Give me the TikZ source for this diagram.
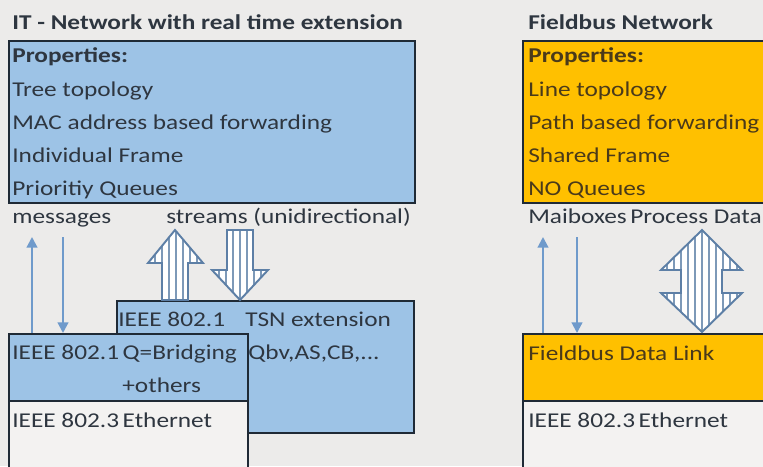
\documentclass[tikz,border=0pt]{standalone}
\usepackage{fontspec}
\setmainfont[FakeStretch=1.2]{Carlito}
\usetikzlibrary{arrows.meta}

\definecolor{pagegray}{HTML}{ECEBEA}
\definecolor{itblue}{HTML}{9DC3E6}
\definecolor{fborange}{HTML}{FFC000}
\definecolor{framedark}{HTML}{1F2A36}
\definecolor{msgblue}{HTML}{6F9ACB}
\definecolor{hollowblue}{HTML}{5D7FA6}
\definecolor{ethgray}{HTML}{F3F2F1}
\definecolor{textgray}{HTML}{2E3640}
\definecolor{textbrown}{HTML}{4A3A1A}

\tikzset{
    layer/.style = {draw=framedark, line width=1.1pt, inner sep=0pt, anchor=north west},
    txt/.style = {anchor=base west, inner sep=0pt, text=textgray, font=\fontsize{12}{14}\selectfont},
    head/.style = {txt, font=\bfseries\fontsize{12}{14}\selectfont},
    msg/.style = {draw=msgblue, line width=1.2pt, -{Triangle[length=6pt,width=6pt]}},
    hollow/.style = {draw=hollowblue, line width=1.1pt, line join=miter},
    stripe/.style = {draw=hollowblue!80, line width=0.8pt}
}

\begin{document}
\begin{tikzpicture}[x=0.02cm, y=-0.02cm]
    \fill[pagegray] (0,0) rectangle (763,466);
    \clip (0,0) rectangle (763,466);

    % IT network side
    \node[head] (ittitle) at (12,30) {IT - Network with real time extension};
    \node[layer, fill=itblue, minimum width=8.12cm, minimum height=3.24cm] (itprops) at (8,40) {};
    \node[head] (itp0) at (12,63) {Properties:};
    \node[txt] (itp1) at (12,96) {Tree topology};
    \node[txt] (itp2) at (12,129) {MAC address based forwarding};
    \node[txt] (itp3) at (12,162) {Individual Frame};
    \node[txt] (itp4) at (12,195) {Prioritiy Queues};

    \node[txt] (messages) at (12,223) {messages};
    \node[txt] (streams) at (166,223) {streams (unidirectional)};

    \node[layer, fill=itblue, minimum width=5.94cm, minimum height=2.64cm] (tsn) at (116,300) {};
    \node[txt] (tsn1) at (118,326) {IEEE 802.1};
    \node[txt] (tsn2) at (245,326) {TSN extension};
    \node[txt] (tsn3) at (248,359) {Qbv,AS,CB,...};

    \node[layer, fill=itblue, minimum width=4.78cm, minimum height=1.34cm] (bridge) at (8,333) {};
    \node[txt] (bridge1) at (12,359) {IEEE 802.1\,Q=Bridging};
    \node[txt] (bridge2) at (122,392) {+others};

    \node[layer, fill=ethgray, minimum width=4.78cm, minimum height=1.5cm] (iteth) at (8,400) {};
    \node[txt] (iteth1) at (12,427) {IEEE 802.3\,Ethernet};

    \coordinate (itup) at (32,237);
    \coordinate (itdown) at (63,237);
    \draw[msg] (itup |- bridge.north) -- (itup);
    \draw[msg] (itdown) -- (itdown |- bridge.north);

    % streams up
    \begin{scope}
        \clip (162,300) -- (162,263) -- (148,263) -- (175,230) -- (203,263) -- (188,263) -- (188,300) -- cycle;
        \fill[white] (140,225) rectangle (210,305);
        \foreach \s in {155,162,...,200} \draw[stripe] (\s,225) -- (\s,305);
    \end{scope}
    \draw[hollow] (162,300) -- (162,263) -- (148,263) -- (175,230) -- (203,263) -- (188,263) -- (188,300) -- cycle;

    % streams down
    \begin{scope}
        \clip (227,230) -- (227,270) -- (212,270) -- (240,300) -- (268,270) -- (253,270) -- (253,230) -- cycle;
        \fill[white] (205,225) rectangle (275,305);
        \foreach \s in {219,226,...,265} \draw[stripe] (\s,225) -- (\s,305);
    \end{scope}
    \draw[hollow] (227,230) -- (227,270) -- (212,270) -- (240,300) -- (268,270) -- (253,270) -- (253,230) -- cycle;

    % fieldbus side
    \node[head] (fbtitle) at (528,30) {Fieldbus Network};
    \node[layer, fill=fborange, minimum width=4.9cm, minimum height=3.24cm] (fbprops) at (522,40) {};
    \node[head, text=textbrown] (fbp0) at (528,63) {Properties:};
    \node[txt, text=textbrown] (fbp1) at (528,96) {Line topology};
    \node[txt, text=textbrown] (fbp2) at (528,129) {Path based forwarding};
    \node[txt, text=textbrown] (fbp3) at (528,162) {Shared Frame};
    \node[txt, text=textbrown] (fbp4) at (528,195) {NO Queues};

    \node[txt] (mailbox) at (528,223) {Maiboxes\,Process Data};

    \node[layer, fill=fborange, minimum width=4.9cm, minimum height=1.34cm] (fblink) at (522,333) {};
    \node[txt, text=textbrown] (fblink1) at (528,360) {Fieldbus Data Link};

    \node[layer, fill=ethgray, minimum width=4.9cm, minimum height=1.5cm] (fbeth) at (522,400) {};
    \node[txt] (fbeth1) at (528,427) {IEEE 802.3\,Ethernet};

    \coordinate (fbup) at (543,237);
    \coordinate (fbdown) at (577,237);
    \draw[msg] (fbup |- fblink.north) -- (fbup);
    \draw[msg] (fbdown) -- (fbdown |- fblink.north);

    % process data both ways
    \begin{scope}
        \clip (702,230) -- (742,270) -- (722,270) -- (722,293) -- (742,293) -- (702,332) -- (661,293) -- (681,293) -- (681,270) -- (661,270) -- cycle;
        \fill[white] (655,225) rectangle (750,337);
        \foreach \s in {667,674,...,740} \draw[stripe] (\s,225) -- (\s,337);
    \end{scope}
    \draw[hollow] (702,230) -- (742,270) -- (722,270) -- (722,293) -- (742,293) -- (702,332) -- (661,293) -- (681,293) -- (681,270) -- (661,270) -- cycle;
\end{tikzpicture}
\end{document}
